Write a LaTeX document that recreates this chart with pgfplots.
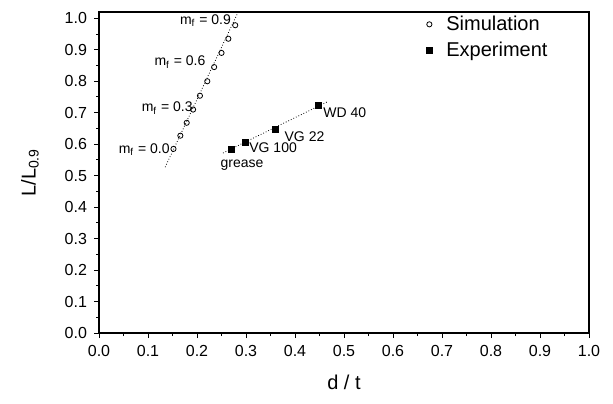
\documentclass[border=0pt]{standalone}
\usepackage{fontspec}
\setmainfont{Liberation Sans}
\usepackage{pgfplots}
\pgfplotsset{compat=1.18}
\begin{document}
\begin{tikzpicture}
\useasboundingbox (-49.5pt,-35pt) rectangle (257pt,166.5pt);
\begin{axis}[
  at={(0,0)}, anchor=south west,
  scale only axis, width=245pt, height=160.5pt,
  xmin=0, xmax=1, ymin=0, ymax=1.02,
  xtick={0,0.1,...,1.01}, ytick={0,0.1,...,1.01},
  minor x tick num=1, minor y tick num=1,
  xtick pos=bottom, ytick pos=left, tick align=outside,
  major tick length=2.5pt, minor tick length=1.5pt,
  axis line style={line width=0.6pt},
  every tick/.style={black, line width=0.5pt},
  /pgf/number format/assume math mode=true,
  xticklabel style={/pgf/number format/fixed, /pgf/number format/fixed zerofill, /pgf/number format/precision=1},
  yticklabel style={/pgf/number format/fixed, /pgf/number format/fixed zerofill, /pgf/number format/precision=1},
  tick label style={font=\fontsize{8}{9}\selectfont},
  xlabel={d / t}, ylabel={L/L\textsubscript{0.9}},
  label style={font=\fontsize{10}{12}\selectfont},
  every axis x label/.style={at={(axis description cs:0.5,-0.155)}, anchor=center},
  every axis y label/.style={at={(axis description cs:-0.141,0.5)}, rotate=90, anchor=center},
  legend style={at={(0.655,1.015)}, anchor=north west, draw=none, fill=none,
    font=\fontsize{10}{12}\selectfont, row sep=0.5pt,
    /tikz/every odd column/.append style={column sep=5pt}},
  legend cell align=left,
]
\addplot[only marks, mark=o, mark size=1.3pt, line width=0.4pt] coordinates {
  (0.152,0.585)(0.166,0.627)(0.179,0.668)(0.192,0.710)(0.206,0.754)
  (0.221,0.800)(0.235,0.845)(0.250,0.890)(0.264,0.935)(0.278,0.978)};
\addlegendentry{Simulation}
\addplot[only marks, mark=square*, mark size=1.5pt] coordinates {
  (0.271,0.585)(0.298,0.607)(0.359,0.648)(0.447,0.724)};
\addlegendentry{Experiment}
\addplot[thin, densely dotted, forget plot] coordinates {(0.135,0.527)(0.287,1.03)};
\addplot[thin, densely dotted, forget plot] coordinates {(0.253,0.572)(0.465,0.734)};
\begin{scope}[every node/.style={font=\fontsize{7}{8}\selectfont, inner sep=0.5pt}]
\node[anchor=east] at (axis cs:0.272,0.993) {m\textsubscript{f} = 0.9};
\node[anchor=east] at (axis cs:0.220,0.861) {m\textsubscript{f} = 0.6};
\node[anchor=east] at (axis cs:0.194,0.715) {m\textsubscript{f} = 0.3};
\node[anchor=east] at (axis cs:0.147,0.583) {m\textsubscript{f} = 0.0};
\node[anchor=center] at (axis cs:0.292,0.533) {grease};
\node[anchor=west] at (axis cs:0.304,0.588) {VG 100};
\node[anchor=west] at (axis cs:0.376,0.623) {VG 22};
\node[anchor=west] at (axis cs:0.455,0.699) {WD 40};
\end{scope}
\end{axis}
\end{tikzpicture}
\end{document}
